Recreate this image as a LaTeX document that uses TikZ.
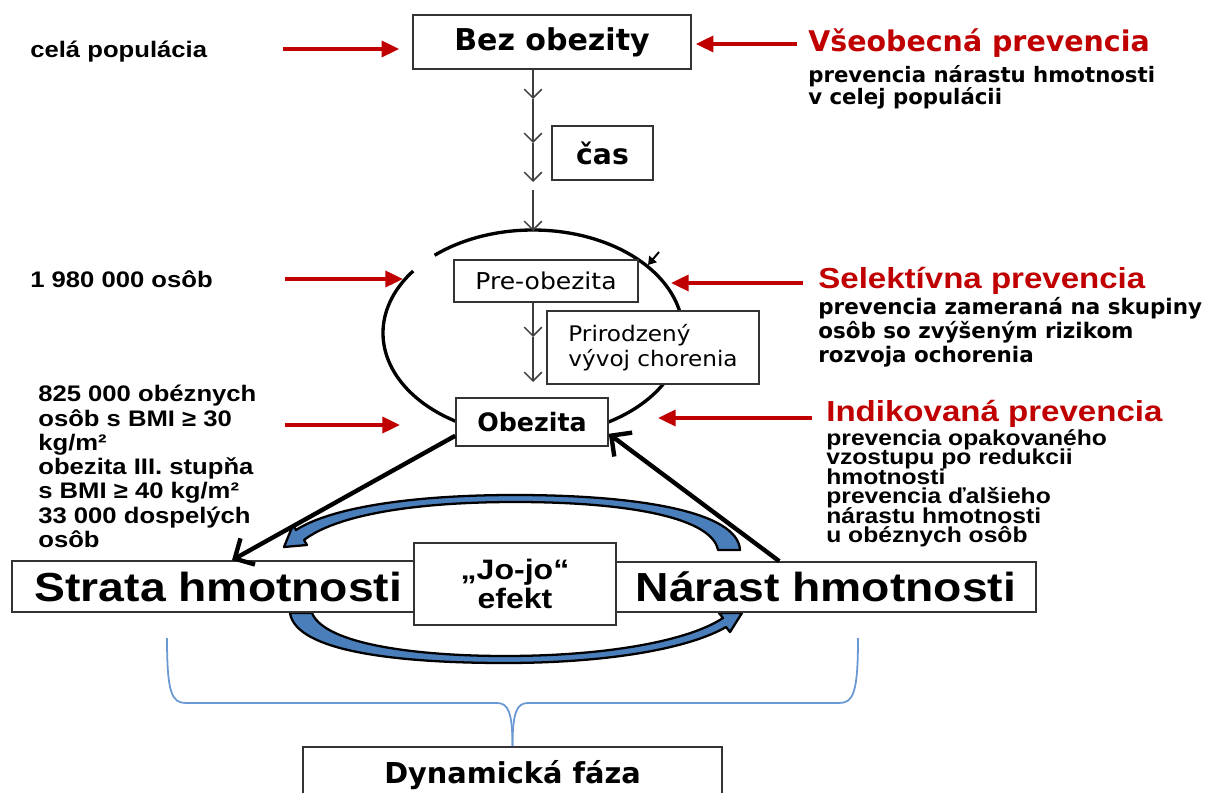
\documentclass[tikz,border=0pt]{standalone}
\usepackage{fontspec}
\usetikzlibrary{arrows.meta,calc,backgrounds}
\newfontfamily\arialx[FakeStretch=1.14]{Liberation Sans}
\newfontfamily\tahb{DejaVu Sans}
\newfontfamily\tahr[FakeStretch=1.08]{DejaVu Sans}
\newcommand\fA[2]{\arialx\bfseries\fontsize{#1}{#2}\selectfont\lineskiplimit=-100pt}
\newcommand\fT[2]{\tahb\bfseries\fontsize{#1}{#2}\selectfont\lineskiplimit=-100pt}
\newcommand\fR[2]{\tahr\fontsize{#1}{#2}\selectfont\lineskiplimit=-100pt}
\definecolor{redc}{HTML}{C00000}
\definecolor{boxc}{HTML}{333333}
\definecolor{arrc}{HTML}{404040}
\definecolor{jojoc}{HTML}{4A7EBB}
\definecolor{bracec}{HTML}{6A98D4}

\begin{document}
\begin{tikzpicture}[x=0.02cm, y=-0.02cm,
  box/.style={draw=boxc, line width=0.9pt, fill=white, inner sep=0pt, text=black},
  tarr/.style={draw=arrc, line width=0.85pt, -{Straight Barb[length=5pt,width=10pt]}},
  heavy/.style={draw=black, line width=2.5pt, -{Straight Barb[length=8.5pt,width=17pt]}},
  redarr/.style={draw=redc, line width=2.2pt, -{Triangle[length=10pt,width=9pt]}},
  jojo/.style={fill=jojoc, draw=black, line width=1.3pt, line join=round},
  brace/.style={draw=bracec, line width=1pt},
  oval/.style={draw=black, line width=1.9pt},
  lbl/.style={inner sep=0pt, anchor=base west},
  blk/.style={inner sep=0pt, anchor=north west, align=left},
]
\useasboundingbox (0,0) rectangle (1213,793);

% ---- boxes of the scheme
\node[box, minimum width=5.56cm, minimum height=1.08cm, font=\fT{17.1pt}{20pt}] (bez) at (552,42) {Bez obezity};
\node[box, minimum width=2.02cm, minimum height=1.08cm, font=\fT{16.1pt}{19pt}] (cas) at (602.5,153) {čas};
\node[box, minimum width=3.68cm, minimum height=0.84cm, font=\fR{13.2pt}{16pt}] (pre) at (546,281) {Pre-obezita};
\node[box, minimum width=4.24cm, minimum height=1.46cm, align=left, font=\fR{12.2pt}{14.2pt}] (prir) at (653,347.5) {Prirodzený\\vývoj chorenia};
\node[box, minimum width=3.04cm, minimum height=0.96cm, font=\fT{14.4pt}{17pt}] (obez) at (532,422) {Obezita};
\node[box, minimum width=8.26cm, minimum height=1.02cm, font=\fA{23.1pt}{26pt}] (strata) at (218.5,586.5) {Strata hmotnosti};
\node[box, minimum width=8.4cm, minimum height=1.0cm, font=\fA{23.1pt}{26pt}] (narast) at (826,587) {Nárast hmotnosti};
\node[box, minimum width=4.04cm, minimum height=1.64cm, align=center, font=\fA{16pt}{17pt}] (jojo) at (515,584) {„Jo-jo“\\efekt};
\node[box, minimum width=8.38cm, minimum height=1.12cm, font=\fT{16.4pt}{19pt}] (dyn) at (512.5,775) {Dynamická fáza};

% ---- left labels
\node[lbl, font=\fA{12.8pt}{13.8pt}] (cela) at (30,58) {celá populácia};
\node[lbl, font=\fA{12.8pt}{13.8pt}] (pocet) at (30,288) {1 980 000 osôb};
\node[blk, font=\fA{12.8pt}{13.8pt}] (bmi) at (38,385) {825 000 obéznych\\osôb s BMI ≥ 30\\kg/m²\\obezita III. stupňa\\s BMI ≥ 40 kg/m²\\33 000 dospelých\\osôb};

% ---- right labels
\node[lbl, text=redc, font=\fT{16.2pt}{19pt}] (vseo) at (808,52) {Všeobecná prevencia};
\node[blk, font=\fT{12.1pt}{12.5pt}] (vseoT) at (808,65) {prevencia nárastu hmotnosti\\v celej populácii};
\node[lbl, text=redc, font=\fA{16.5pt}{19pt}] (sel) at (818,289) {Selektívna prevencia};
\node[blk, font=\fT{12.2pt}{13.6pt}] (selT) at (818,297) {prevencia zameraná na skupiny\\osôb so zvýšeným rizikom\\rozvoja ochorenia};
\node[lbl, text=redc, font=\fA{16.5pt}{19pt}] (ind) at (826,422) {Indikovaná prevencia};
\node[blk, font=\fA{12.3pt}{11.1pt}] (indT) at (826,429) {prevencia opakovaného\\vzostupu po redukcii\\hmotnosti\\prevencia ďalšieho\\nárastu hmotnosti\\u obéznych osôb};

% ---- helper points
\coordinate (a1) at (533,99);
\coordinate (a2) at (533,143);
\coordinate (a3) at (533,182);
\coordinate (a4) at (533,190);
\coordinate (etop) at (533,231);
\coordinate (b1) at (533,337);
\coordinate (b2) at (533,382);
\coordinate (r1) at (283,49);
\coordinate (r2) at (285,279);
\coordinate (r2e) at (403,279);
\coordinate (r3) at (285,425);
\coordinate (r3e) at (400,425);
\coordinate (r4) at (797,44);
\coordinate (r5) at (803,283);
\coordinate (r5e) at (671,283);
\coordinate (r6) at (812,418);
\coordinate (r6e) at (658,418);

\begin{pgfonlayer}{background}
  \fill[white] (0,0) rectangle (1213,793);
  % cycle around the pre-obesity stage
  \draw[oval] plot[domain=143:491, samples=140, smooth] ({533+150*cos(\x)},{333-103*sin(\x)});
  \draw[line width=1.1pt, -{Triangle[length=4.5pt,width=5.5pt]}] (659,252) -- (648,265);
  % yo-yo cycle bands
  \filldraw[jojo] (740,550) .. controls (738,512) and (640,495) .. (515,495)
     .. controls (410,495) and (330,508) .. (296,530) -- (293,525) -- (284,547)
     -- (307,545) -- (304,540) .. controls (335,516) and (410,502) .. (515,502)
     .. controls (630,502) and (712,518) .. (718,550) -- cycle;
  \filldraw[jojo] (290,613) .. controls (296,652) and (400,663) .. (505,663)
     .. controls (610,663) and (690,648) .. (726,627) -- (730,632) -- (742,613)
     -- (719,613) -- (723,618) .. controls (690,640) and (610,656) .. (505,656)
     .. controls (420,656) and (325,645) .. (312,613) -- cycle;
\end{pgfonlayer}

% ---- flow arrows
\draw[tarr] (a1 |- bez.south) -- (a1);
\draw[tarr] (a1) -- (a2);
\draw[tarr] (a2) -- (a3);
\draw[tarr] (a4) -- (etop);
\draw[tarr] (b1 |- pre.south) -- (b1);
\draw[tarr] (b1) -- (b2);

\draw[heavy] ($(obez.south west)+(0,-11)$) -- ($(strata.north)+(13.5,0)$);
\draw[heavy] ($(narast.north west)+(164,0)$) -- ($(obez.south east)+(0,-13)$);

% ---- prevention arrows
\draw[redarr, shorten >=0.26cm] (r1) -- (r1 -| bez.west);
\draw[redarr] (r2) -- (r2e);
\draw[redarr] (r3) -- (r3e);
\draw[redarr, shorten >=0.08cm] (r4) -- (r4 -| bez.east);
\draw[redarr] (r5) -- (r5e);
\draw[redarr] (r6) -- (r6e);

% ---- brace gathering the dynamic phase
\draw[brace] (167,638) .. controls (167,694) and (172,703) .. (186,703) -- (497,703)
   .. controls (508,703) and (512.5,712) .. (dyn.north);
\draw[brace] (858,638) .. controls (858,694) and (853,703) .. (839,703) -- (528,703)
   .. controls (517,703) and (512.5,712) .. (dyn.north);
\end{tikzpicture}
\end{document}
